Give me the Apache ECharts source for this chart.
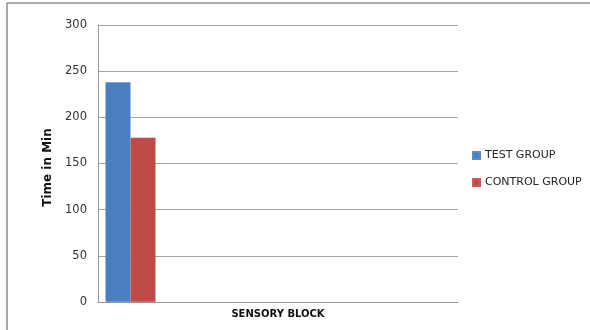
<!DOCTYPE html>
<html>
<head>
<meta charset="utf-8">
<script src="https://cdn.jsdelivr.net/npm/echarts@6/dist/echarts.min.js"></script>
<style>
html,body{margin:0;padding:0;background:#fff;}
#c{width:590px;height:330px;}
</style>
</head>
<body>
<div id="c"></div>
<script>
var categories = ['SENSORY BLOCK'];
var seriesNames = ['TEST GROUP', 'CONTROL GROUP'];
var testGroup = [238];
var controlGroup = [178];
var yTicks = [0, 50, 100, 150, 200, 250, 300];
var yTitle = 'Time in Min';

var chart = echarts.init(document.getElementById('c'), null, {renderer: 'canvas'});
var font = 'DejaVu Sans';
var option = {
  animation: false,
  backgroundColor: '#ffffff',
  graphic: [
    {type: 'line', shape: {x1: 7, y1: 3, x2: 7, y2: 330}, style: {stroke: '#8c8c8c', lineWidth: 1.5}},
    {type: 'line', shape: {x1: 7, y1: 3, x2: 590, y2: 3}, style: {stroke: '#8c8c8c', lineWidth: 1.5}}
  ],
  grid: [
    {left: 98, right: 132, top: 25, bottom: 28, containLabel: false},
    {left: 98, width: 65, top: 25, bottom: 28, containLabel: false}
  ],
  legend: {
    orient: 'vertical',
    left: 467,
    top: 145,
    itemWidth: 7,
    itemHeight: 7,
    itemGap: 16,
    icon: 'rect',
    data: seriesNames,
    textStyle: {fontFamily: font, fontSize: 11, color: '#262626'}
  },
  xAxis: [
    {
      type: 'category', gridIndex: 0, data: categories,
      axisLine: {lineStyle: {color: '#9a9a9a', width: 1}},
      axisTick: {show: false},
      axisLabel: {fontFamily: font, fontSize: 10, fontWeight: 'bold', color: '#111', margin: 7}
    },
    {
      type: 'category', gridIndex: 1, data: categories, show: false
    }
  ],
  yAxis: [
    {
      type: 'value', gridIndex: 0, min: yTicks[0], max: yTicks[yTicks.length - 1], interval: yTicks[1] - yTicks[0],
      name: yTitle, nameLocation: 'middle', nameGap: 40, nameRotate: 90,
      nameTextStyle: {fontFamily: font, fontSize: 12, fontWeight: 'bold', color: '#111', padding: [0, 8, 0, 0]},
      axisLine: {show: true, lineStyle: {color: '#9a9a9a', width: 1}},
      axisTick: {show: false},
      splitLine: {lineStyle: {color: '#a6a6a6', width: 1}},
      axisLabel: {fontFamily: font, fontSize: 11.5, color: '#333', margin: 11}
    },
    {
      type: 'value', gridIndex: 1, min: yTicks[0], max: yTicks[yTicks.length - 1], show: false
    }
  ],
  series: [
    {
      name: seriesNames[0], type: 'bar', xAxisIndex: 1, yAxisIndex: 1,
      data: testGroup, barWidth: 25, barGap: '0%',
      itemStyle: {color: '#4A7EBF', borderColor: '#5a8ccc', borderWidth: 0.5}
    },
    {
      name: seriesNames[1], type: 'bar', xAxisIndex: 1, yAxisIndex: 1,
      data: controlGroup, barWidth: 25, barGap: '0%',
      itemStyle: {color: '#BE4B48', borderColor: '#cc5a57', borderWidth: 0.5}
    }
  ]
};
chart.setOption(option);
</script>
</body>
</html>
